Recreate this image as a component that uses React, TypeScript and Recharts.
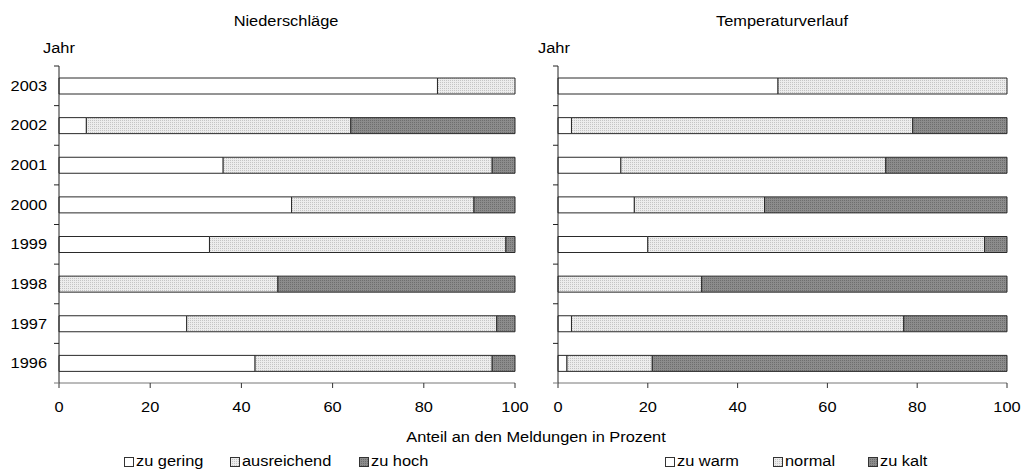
import { Bar, BarChart, XAxis, YAxis } from "recharts";

const years = ["2003", "2002", "2001", "2000", "1999", "1998", "1997", "1996"];

// Niederschläge
const zuGering = [83, 6, 36, 51, 33, 0, 28, 43];
const ausreichend = [17, 58, 59, 40, 65, 48, 68, 52];
const zuHoch = [0, 36, 5, 9, 2, 52, 4, 5];

// Temperaturverlauf
const zuWarm = [49, 3, 14, 17, 20, 0, 3, 2];
const normal = [51, 76, 59, 29, 75, 32, 74, 19];
const zuKalt = [0, 21, 27, 54, 5, 68, 23, 79];

const xTicks = [0, 20, 40, 60, 80, 100];

const FONT = "'Liberation Sans', Arial, sans-serif";
const FS = 14;
const SX = 1.17; // the original lettering is a bit wide
const PLOT_TOP = 66;
const PLOT_BOTTOM = 383;
const BAND = (PLOT_BOTTOM - PLOT_TOP) / years.length;

const niederData = years.map((year, i) => ({
  year,
  gering: zuGering[i],
  ausreichend: ausreichend[i],
  hoch: zuHoch[i],
}));

const tempData = years.map((year, i) => ({
  year,
  warm: zuWarm[i],
  normal: normal[i],
  kalt: zuKalt[i],
}));

function Patterns({ prefix }: { prefix: string }) {
  return (
    <defs>
      <pattern id={`${prefix}-light`} width="2" height="2" patternUnits="userSpaceOnUse">
        <rect width="2" height="2" fill="#ececec" />
        <rect width="1" height="1" fill="#c4c4c4" />
      </pattern>
      <pattern id={`${prefix}-dark`} width="2" height="2" patternUnits="userSpaceOnUse">
        <rect width="2" height="2" fill="#8c8c8c" />
        <rect width="1" height="1" fill="#6e6e6e" />
      </pattern>
    </defs>
  );
}

function YearTick(props: any) {
  const { y, payload, index, axisX, showLabel } = props;
  const last = index === years.length - 1;
  return (
    <g>
      <line x1={axisX - 5} x2={axisX} y1={y - BAND / 2} y2={y - BAND / 2} stroke="#222" />
      {last && <line x1={axisX - 5} x2={axisX} y1={y + BAND / 2} y2={y + BAND / 2} stroke="#777" />}
      {showLabel && (
        <text
          transform={`translate(${axisX - 12},${y}) scale(${SX},1)`}
          dy="0.36em"
          textAnchor="end"
          fontSize={FS}
          fill="#000"
          fontFamily={FONT}
        >
          {payload.value}
        </text>
      )}
    </g>
  );
}

function PctTick(props: any) {
  const { x, y, payload } = props;
  return (
    <text
      transform={`translate(${x},${y}) scale(${SX},1)`}
      dy="0.71em"
      textAnchor="middle"
      fontSize={FS}
      fill="#000"
      fontFamily={FONT}
    >
      {payload.value}
    </text>
  );
}

function Panel({
  data,
  keys,
  prefix,
  width,
  yWidth,
  right,
  showLabels,
}: {
  data: any[];
  keys: string[];
  prefix: string;
  width: number;
  yWidth: number;
  right: number;
  showLabels: boolean;
}) {
  const fills = ["#ffffff", `url(#${prefix}-light)`, `url(#${prefix}-dark)`];
  return (
    <BarChart
      width={width}
      height={420}
      data={data}
      layout="vertical"
      barSize={16}
      margin={{ top: PLOT_TOP, right, left: 0, bottom: 420 - PLOT_BOTTOM - 30 }}
    >
      <Patterns prefix={prefix} />
      <XAxis
        type="number"
        domain={[0, 100]}
        ticks={xTicks}
        height={30}
        tickSize={5}
        tickMargin={14}
        axisLine={{ stroke: "#777" }}
        tickLine={{ stroke: "#333" }}
        tick={<PctTick />}
        interval={0}
      />
      <YAxis
        type="category"
        dataKey="year"
        width={yWidth}
        axisLine={{ stroke: "#222" }}
        tickLine={false}
        interval={0}
        tick={<YearTick axisX={yWidth} showLabel={showLabels} />}
      />
      {keys.map((k, i) => (
        <Bar
          key={k}
          dataKey={k}
          stackId="a"
          fill={fills[i]}
          stroke="#2a2a2a"
          strokeWidth={1}
          isAnimationActive={false}
        />
      ))}
    </BarChart>
  );
}

const textStyle = {
  position: "absolute" as const,
  fontSize: FS,
  fontFamily: FONT,
  color: "#000",
  lineHeight: "16px",
  whiteSpace: "nowrap" as const,
};

function LegendItem({ left, label, fill, id }: { left: number; label: string; fill: string; id: string }) {
  return (
    <div style={{ position: "absolute", left, top: 457, width: 9, height: 9 }}>
      <svg width={10} height={10} style={{ position: "absolute", left: 0, top: 0 }}>
        <defs>
          <pattern id={id} width="2" height="2" patternUnits="userSpaceOnUse">
            <rect width="2" height="2" fill={fill === "light" ? "#ececec" : "#8c8c8c"} />
            <rect width="1" height="1" fill={fill === "light" ? "#c4c4c4" : "#6e6e6e"} />
          </pattern>
        </defs>
        <rect x={0.5} y={0.5} width={9} height={9} fill={fill === "white" ? "#fff" : `url(#${id})`} stroke="#333" />
      </svg>
      <div style={{ ...textStyle, left: 12, top: -4, transform: `scaleX(${SX})`, transformOrigin: "0 0" }}>{label}</div>
    </div>
  );
}

const leftLegend = ["zu gering", "ausreichend", "zu hoch"];
const rightLegend = ["zu warm", "normal", "zu kalt"];
const legendFills = ["white", "light", "dark"];
const leftLegendX = [124, 230, 359];
const rightLegendX = [665, 773, 868];

function CText({ cx, top, children }: { cx: number; top: number; children: string }) {
  return (
    <div style={{ ...textStyle, left: cx, top, transform: `translateX(-50%) scaleX(${SX})` }}>{children}</div>
  );
}

export default function App() {
  return (
    <div style={{ position: "absolute", left: 0, top: 0, width: 1021, height: 470, background: "#fff", overflow: "hidden" }}>
      <div style={{ position: "absolute", left: 0, top: 0 }}>
        <Panel data={niederData} keys={["gering", "ausreichend", "hoch"]} prefix="nd" width={545} yWidth={59} right={30} showLabels />
      </div>
      <div style={{ position: "absolute", left: 520, top: 0 }}>
        <Panel data={tempData} keys={["warm", "normal", "kalt"]} prefix="tp" width={501} yWidth={38} right={14} showLabels={false} />
      </div>
      <CText cx={286} top={13}>Niederschläge</CText>
      <CText cx={782} top={13}>Temperaturverlauf</CText>
      <div style={{ ...textStyle, left: 43, top: 40, transform: `scaleX(${SX})`, transformOrigin: "0 0" }}>Jahr</div>
      <div style={{ ...textStyle, left: 538, top: 40, transform: `scaleX(${SX})`, transformOrigin: "0 0" }}>Jahr</div>
      <CText cx={536} top={429}>Anteil an den Meldungen in Prozent</CText>
      {leftLegend.map((l, i) => (
        <LegendItem key={l} id={`lgl${i}`} left={leftLegendX[i]} label={l} fill={legendFills[i]} />
      ))}
      {rightLegend.map((l, i) => (
        <LegendItem key={l} id={`lgr${i}`} left={rightLegendX[i]} label={l} fill={legendFills[i]} />
      ))}
    </div>
  );
}
